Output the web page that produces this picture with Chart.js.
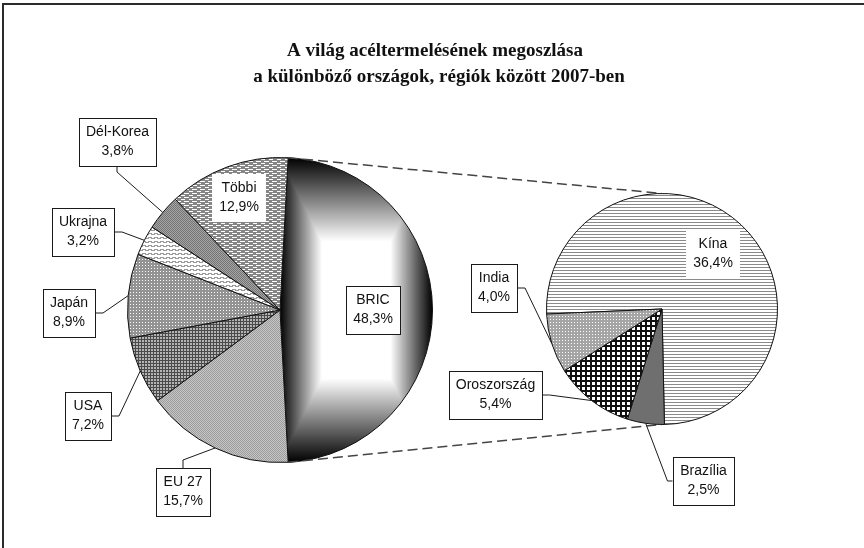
<!DOCTYPE html>
<html>
<head>
<meta charset="utf-8">
<title>A világ acéltermelésének megoszlása 2007</title>
<script src="https://cdn.jsdelivr.net/npm/chart.js@4.4.1/dist/chart.umd.min.js"></script>
<style>
    html, body { margin: 0; padding: 0; background: #fff; }
    #wrap { position: relative; width: 864px; height: 548px; overflow: hidden; }
    #wrap canvas { position: absolute; left: 0; top: 0; }
    #frame { position: absolute; left: 2px; top: 3px; right: -5px; bottom: -5px;
             border-top: 2px solid #2b2b2b; border-left: 2px solid #2b2b2b; }
</style>
</head>
<body>
<div id="wrap">
    <div id="frame"></div>
    <canvas id="mainPie" width="864" height="548"></canvas>
    <canvas id="subPie" width="864" height="548"></canvas>
</div>
<script>
// Adatok (szazalek)
const mainLabels = ['BRIC', 'EU 27', 'USA', 'Japán', 'Ukrajna', 'Dél-Korea', 'Többi'];
const mainValues = [48.3, 15.7, 7.2, 8.9, 3.2, 3.8, 12.9];

const subLabels = ['Kína', 'Brazília', 'Oroszország', 'India'];
const subValues = [36.4, 2.5, 5.4, 4.0];

const titleLines = ['A világ acéltermelésének megoszlása', 'a különböző országok, régiók között 2007-ben'];

// cimkek helye: inside = a sugar hanyad reszen, kulonben doboz kozeppont + vezeto vonal oldala
const mainLabelPos = [
    { inside: 0.61, border: true },      // BRIC
    { x: 183, y: 492, side: 'top' },     // EU 27
    { x: 88, y: 416, side: 'right' },    // USA
    { x: 69, y: 313, side: 'right' },    // Japan
    { x: 83, y: 232, side: 'right' },    // Ukrajna
    { x: 117, y: 142, side: 'bottom' },  // Del-Korea
    { inside: 0.78, border: false }      // Tobbi
];
const subLabelPos = [
    { inside: 0.65, border: false },     // Kina
    { x: 703, y: 481, side: 'left' },    // Brazilia
    { x: 495, y: 395, side: 'right' },   // Oroszorszag
    { x: 494, y: 288, side: 'right' }    // India
];

const boxFont = '14px "Liberation Sans", Arial, sans-serif';
const lineH = 19;

function pctText(v) {
    return v.toFixed(1).replace('.', ',') + '%';
}

// kis mintazat csempebol (minden karakter egy pixel)
function tile(ctx, rows, colors) {
    const c = document.createElement('canvas');
    c.width = rows[0].length;
    c.height = rows.length;
    const g = c.getContext('2d');
    rows.forEach((row, y) => {
        for (let x = 0; x < row.length; x++) {
            g.fillStyle = colors[row[x]];
            g.fillRect(x, y, 1, 1);
        }
    });
    return ctx.createPattern(c, 'repeat');
}

// BRIC szelet: "kozeprol" szatmazo szurke atmenet a szelet befoglalo teglalapjan
function bricGradient(ctx, arc) {
    const c = document.createElement('canvas');
    c.width = ctx.canvas.width;
    c.height = ctx.canvas.height;
    const g = c.getContext('2d');
    let x0 = arc.x, x1 = arc.x, y0 = arc.y, y1 = arc.y;
    for (let k = 0; k <= 90; k++) {
        const a = arc.startAngle + (arc.endAngle - arc.startAngle) * k / 90;
        const px = arc.x + Math.cos(a) * arc.outerRadius;
        const py = arc.y + Math.sin(a) * arc.outerRadius;
        x0 = Math.min(x0, px); x1 = Math.max(x1, px);
        y0 = Math.min(y0, py); y1 = Math.max(y1, py);
    }
    const cx = (x0 + x1) / 2, cy = (y0 + y1) / 2;
    const hw = (x1 - x0) / 2, hh = (y1 - y0) / 2;
    const ox = Math.floor(x0) - 1, oy = Math.floor(y0) - 1;
    const w = Math.ceil(x1 - x0) + 3, h = Math.ceil(y1 - y0) + 3;
    const img = g.createImageData(w, h);
    for (let y = 0; y < h; y++) {
        for (let x = 0; x < w; x++) {
            const t = Math.max(Math.abs(x + ox + 0.5 - cx) / hw, Math.abs(y + oy + 0.5 - cy) / hh);
            const b = Math.round(255 * Math.min(1, Math.max(0, (1 - t) / 0.55)));
            const i = (y * w + x) * 4;
            img.data[i] = b; img.data[i + 1] = b; img.data[i + 2] = b; img.data[i + 3] = 255;
        }
    }
    g.putImageData(img, ox, oy);
    return ctx.createPattern(c, 'no-repeat');
}

function labelPlugin(posList) {
    return {
        id: 'boxLabels',
        afterDatasetsDraw(chart) {
            const ctx = chart.ctx;
            const meta = chart.getDatasetMeta(0);
            const labels = chart.data.labels;
            const values = chart.data.datasets[0].data;
            ctx.save();
            ctx.font = boxFont;
            ctx.lineWidth = 1;
            ctx.strokeStyle = '#1a1a1a';
            meta.data.forEach((arc, i) => {
                const p = posList[i];
                const mid = (arc.startAngle + arc.endAngle) / 2;
                const lines = [labels[i], pctText(values[i])];
                const w = Math.round(Math.max(...lines.map(t => ctx.measureText(t).width)) + 14);
                const h = lineH * 2 + 10;
                let cx, cy;
                if (p.inside) {
                    cx = arc.x + Math.cos(mid) * arc.outerRadius * p.inside;
                    cy = arc.y + Math.sin(mid) * arc.outerRadius * p.inside;
                } else {
                    cx = p.x; cy = p.y;
                    // vezeto vonal a szelet kozepehez
                    const tx = arc.x + Math.cos(mid) * arc.outerRadius;
                    const ty = arc.y + Math.sin(mid) * arc.outerRadius;
                    let sx = cx, sy = cy, ex = cx, ey = cy;
                    if (p.side === 'right') { sx = cx + w / 2; ex = sx + 8; }
                    if (p.side === 'left') { sx = cx - w / 2; ex = sx - 5; }
                    if (p.side === 'top') { sy = cy - h / 2; ey = sy - 8; }
                    if (p.side === 'bottom') { sy = cy + h / 2; ey = sy + 6; }
                    ctx.beginPath();
                    ctx.moveTo(sx, sy);
                    ctx.lineTo(ex, ey);
                    ctx.lineTo(tx, ty);
                    ctx.stroke();
                }
                const left = Math.round(cx - w / 2), top = Math.round(cy - h / 2);
                ctx.fillStyle = '#fff';
                ctx.fillRect(left, top, w, h);
                if (p.border !== false) {
                    ctx.strokeRect(left + 0.5, top + 0.5, w, h);
                }
                ctx.fillStyle = '#111';
                ctx.textAlign = 'center';
                ctx.textBaseline = 'middle';
                ctx.fillText(lines[0], left + w / 2, top + h / 2 - lineH / 2);
                ctx.fillText(lines[1], left + w / 2, top + h / 2 + lineH / 2);
            });
            ctx.restore();
        }
    };
}

const titlePlugin = {
    id: 'twoLineTitle',
    afterDraw(chart) {
        const ctx = chart.ctx;
        ctx.save();
        ctx.font = 'bold 19px "Liberation Serif", "Times New Roman", serif';
        ctx.fillStyle = '#111';
        ctx.textAlign = 'center';
        ctx.textBaseline = 'middle';
        ctx.fillText(titleLines[0], 435, 51);
        ctx.fillText(titleLines[1], 439, 77);
        ctx.restore();
    }
};

// fo kordiagram
const mainCtx = document.getElementById('mainPie').getContext('2d');
const mainFills = [
    '#000',
    tile(mainCtx, ['ab', 'ba'], { a: '#9c9c9c', b: '#c6c6c6' }),                       // EU 27
    tile(mainCtx, ['ddd', 'dll', 'dll'], { d: '#4a4a4a', l: '#b4b4b4' }),              // USA
    tile(mainCtx, ['ggg', 'gwg', 'ggg'], { g: '#939393', w: '#ffffff' }),              // Japan
    tile(mainCtx, ['wwwwww', 'ggwwgg', 'wggggw', 'wwwwww'], { g: '#9a9a9a', w: '#ffffff' }), // Ukrajna
    tile(mainCtx, ['ab', 'ba'], { a: '#737373', b: '#a6a6a6' }),                       // Del-Korea
    tile(mainCtx, ['gggggggg', 'wwwwwggg', 'gggggggg', 'wggggwww'], { g: '#858585', w: '#ffffff' }) // Tobbi
];

const mainChart = new Chart(mainCtx, {
    type: 'pie',
    data: {
        labels: mainLabels,
        datasets: [{
            data: mainValues,
            backgroundColor: mainFills,
            borderColor: '#111',
            borderWidth: 1
        }]
    },
    options: {
        responsive: false,
        animation: false,
        events: [],
        rotation: 90 - mainValues[0] * 3.6 / 2,   // BRIC jobbra kozepre
        layout: { padding: { left: 127, top: 157, right: 431, bottom: 85 } },
        plugins: { legend: { display: false }, tooltip: { enabled: false } }
    },
    plugins: [labelPlugin(mainLabelPos), titlePlugin]
});

mainChart.data.datasets[0].backgroundColor[0] = bricGradient(mainCtx, mainChart.getDatasetMeta(0).data[0]);
mainChart.update();

// osszekoto szaggatott vonalak a BRIC szelettol a kis kor tetejeig / aljaig
const connectorPlugin = {
    id: 'connectors',
    beforeDatasetsDraw(chart) {
        const big = mainChart.getDatasetMeta(0).data[0];
        const small = chart.getDatasetMeta(0).data[0];
        const ctx = chart.ctx;
        ctx.save();
        ctx.strokeStyle = '#444';
        ctx.lineWidth = 1.5;
        ctx.setLineDash([10, 5]);
        ctx.beginPath();
        ctx.moveTo(big.x + Math.cos(big.startAngle) * big.outerRadius, big.y + Math.sin(big.startAngle) * big.outerRadius);
        ctx.lineTo(small.x, small.y - small.outerRadius);
        ctx.moveTo(big.x + Math.cos(big.endAngle) * big.outerRadius, big.y + Math.sin(big.endAngle) * big.outerRadius);
        ctx.lineTo(small.x, small.y + small.outerRadius);
        ctx.stroke();
        ctx.restore();
    }
};

// BRIC bontasa
const subCtx = document.getElementById('subPie').getContext('2d');
const subFills = [
    tile(subCtx, ['gggg', 'wwww', 'wwww'], { g: '#8a8a8a', w: '#ffffff' }),            // Kina
    '#6f6f6f',                                                                          // Brazilia
    tile(subCtx, ['kkkkk', 'kkkkk', 'kkwww', 'kkwww', 'kkwww'], { k: '#111111', w: '#ffffff' }), // Oroszorszag
    tile(subCtx, ['ggg', 'gwg', 'ggg'], { g: '#a5a5a5', w: '#ffffff' })                // India
];

const subChart = new Chart(subCtx, {
    type: 'pie',
    data: {
        labels: subLabels,
        datasets: [{
            data: subValues,
            backgroundColor: subFills,
            borderColor: '#111',
            borderWidth: 1
        }]
    },
    options: {
        responsive: false,
        animation: false,
        events: [],
        rotation: -92.5,
        layout: { padding: { left: 546, top: 193, right: 86, bottom: 123 } },
        plugins: { legend: { display: false }, tooltip: { enabled: false } }
    },
    plugins: [connectorPlugin, labelPlugin(subLabelPos)]
});
</script>
</body>
</html>
